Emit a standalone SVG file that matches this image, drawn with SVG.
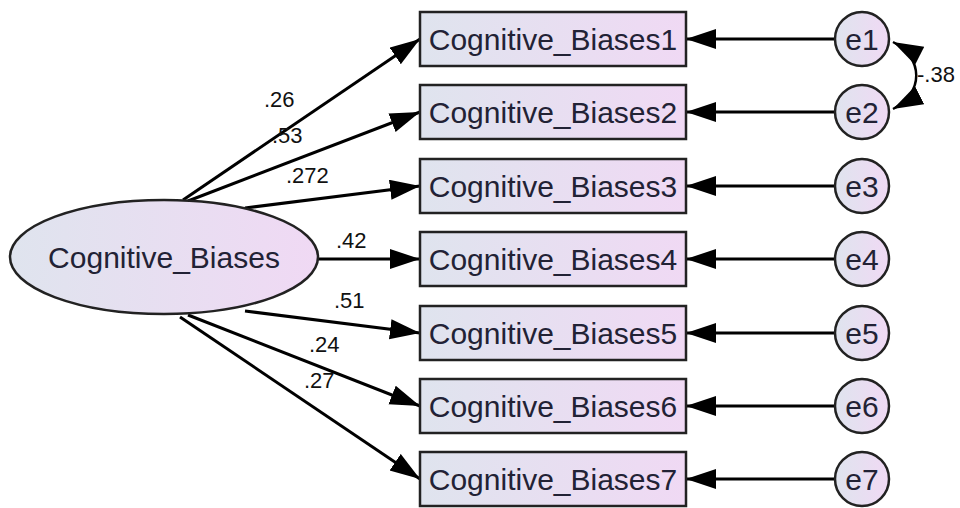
<svg xmlns="http://www.w3.org/2000/svg" width="960" height="508" viewBox="0 0 960 508">
<defs>
<linearGradient id="g" x1="0" y1="0" x2="1" y2="0">
<stop offset="0" stop-color="#dfe4ee"/>
<stop offset="1" stop-color="#f0d9f4"/>
</linearGradient>
<marker id="ah" markerUnits="userSpaceOnUse" markerWidth="32" markerHeight="22" refX="30" refY="10" orient="auto">
<path d="M0,0 L30,10 L0,20 Z" fill="#000"/>
</marker>
<marker id="ahs" markerUnits="userSpaceOnUse" markerWidth="32" markerHeight="22" refX="30" refY="10" orient="auto">
<path d="M0,0 L30,10 L0,20 Z" fill="#000"/>
</marker>
<marker id="ahst" markerUnits="userSpaceOnUse" markerWidth="32" markerHeight="22" refX="0" refY="10" orient="auto">
<path d="M30,0 L0,10 L30,20 Z" fill="#000"/>
</marker>
</defs>
<style>
.n{fill:url(#g);stroke:#222;stroke-width:2.5}
.t{font-family:"Liberation Sans",Arial,sans-serif;font-size:30px;fill:#222235}
.l{font-family:"Liberation Sans",Arial,sans-serif;font-size:22px;fill:#111}
.c{stroke:#000;stroke-width:3;fill:none}
</style>
<rect width="960" height="508" fill="#fff"/>
<g id="connectors">
<line class="c" x1="183" y1="200" x2="420" y2="39" marker-end="url(#ah)"/>
<line class="c" x1="188" y1="201" x2="420" y2="112" marker-end="url(#ah)"/>
<line class="c" x1="245" y1="208" x2="420" y2="186" marker-end="url(#ah)"/>
<line class="c" x1="318" y1="259" x2="420" y2="259" marker-end="url(#ah)"/>
<line class="c" x1="245" y1="311" x2="420" y2="333" marker-end="url(#ah)"/>
<line class="c" x1="188" y1="315" x2="420" y2="406" marker-end="url(#ah)"/>
<line class="c" x1="180" y1="317" x2="420" y2="479" marker-end="url(#ah)"/>
<line class="c" x1="835" y1="39" x2="686" y2="39" marker-end="url(#ah)"/>
<line class="c" x1="835" y1="112" x2="686" y2="112" marker-end="url(#ah)"/>
<line class="c" x1="835" y1="186" x2="686" y2="186" marker-end="url(#ah)"/>
<line class="c" x1="835" y1="259" x2="686" y2="259" marker-end="url(#ah)"/>
<line class="c" x1="835" y1="333" x2="686" y2="333" marker-end="url(#ah)"/>
<line class="c" x1="835" y1="406" x2="686" y2="406" marker-end="url(#ah)"/>
<line class="c" x1="835" y1="479" x2="686" y2="479" marker-end="url(#ah)"/>
<path class="c" style="stroke-width:2.5" d="M893,42 C924,58 924,93 893,109" marker-start="url(#ahst)" marker-end="url(#ahs)"/>
<text class="l" x="264" y="107">.26</text>
<text class="l" x="272" y="143">.53</text>
<text class="l" x="286" y="183">.272</text>
<text class="l" x="336" y="248">.42</text>
<text class="l" x="334" y="308">.51</text>
<text class="l" x="309" y="352">.24</text>
<text class="l" x="304" y="388">.27</text>
<text class="l" x="917" y="82">-.38</text>
</g>
<g id="Cognitive_Biases">
<ellipse class="n" cx="164" cy="257" rx="154" ry="57"/>
<text class="t" x="164" y="268" text-anchor="middle">Cognitive_Biases</text>
</g>
<g id="CB1"><rect class="n" x="420" y="12" width="266" height="54"/><text class="t" x="553" y="50" text-anchor="middle">Cognitive_Biases1</text></g>
<g id="CB2"><rect class="n" x="420" y="85" width="266" height="54"/><text class="t" x="553" y="123" text-anchor="middle">Cognitive_Biases2</text></g>
<g id="CB3"><rect class="n" x="420" y="159" width="266" height="54"/><text class="t" x="553" y="197" text-anchor="middle">Cognitive_Biases3</text></g>
<g id="CB4"><rect class="n" x="420" y="232" width="266" height="54"/><text class="t" x="553" y="270" text-anchor="middle">Cognitive_Biases4</text></g>
<g id="CB5"><rect class="n" x="420" y="306" width="266" height="54"/><text class="t" x="553" y="344" text-anchor="middle">Cognitive_Biases5</text></g>
<g id="CB6"><rect class="n" x="420" y="379" width="266" height="54"/><text class="t" x="553" y="417" text-anchor="middle">Cognitive_Biases6</text></g>
<g id="CB7"><rect class="n" x="420" y="452" width="266" height="54"/><text class="t" x="553" y="490" text-anchor="middle">Cognitive_Biases7</text></g>
<g id="e1"><circle class="n" cx="862" cy="39" r="27"/><text class="t" x="862" y="50" text-anchor="middle">e1</text></g>
<g id="e2"><circle class="n" cx="862" cy="112" r="27"/><text class="t" x="862" y="123" text-anchor="middle">e2</text></g>
<g id="e3"><circle class="n" cx="862" cy="186" r="27"/><text class="t" x="862" y="197" text-anchor="middle">e3</text></g>
<g id="e4"><circle class="n" cx="862" cy="259" r="27"/><text class="t" x="862" y="270" text-anchor="middle">e4</text></g>
<g id="e5"><circle class="n" cx="862" cy="333" r="27"/><text class="t" x="862" y="344" text-anchor="middle">e5</text></g>
<g id="e6"><circle class="n" cx="862" cy="406" r="27"/><text class="t" x="862" y="417" text-anchor="middle">e6</text></g>
<g id="e7"><circle class="n" cx="862" cy="479" r="27"/><text class="t" x="862" y="490" text-anchor="middle">e7</text></g>
</svg>
